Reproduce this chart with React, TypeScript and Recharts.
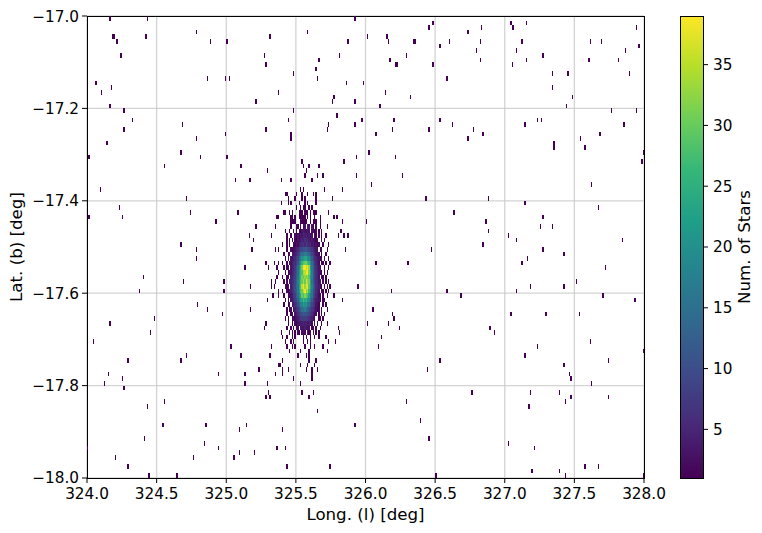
import { ScatterChart, Scatter, XAxis, YAxis, CartesianGrid, ReferenceArea } from 'recharts'

const LON_TICKS = [324, 324.5, 325, 325.5, 326, 326.5, 327, 327.5, 328]
const LAT_TICKS = [-18, -17.8, -17.6, -17.4, -17.2, -17]
const COUNT_TICKS = [5, 10, 15, 20, 25, 30, 35]

const VIRIDIS = [
  '#440154', '#482878', '#3e4989', '#31688e', '#26828e', '#1f9e89',
  '#35b779', '#6ece58', '#b5de2b', '#fde725',
]
const COUNT_MIN = 1
const COUNT_MAX = 39

// lat bins are 0.01 deg: row 0 is -17.00 to -17.01, row 99 is -17.99 to -18.00
// each row lists the left lon edge of bins that hold a single star
const SINGLE_STAR_LONS = [
  [324.16, 324.43, 325.92],
  [326.48, 327.04, 327.15],
  [326.45, 326.83, 327.05, 327.06, 327.94],
  [324.78, 325.58, 326.73],
  [324.18, 324.19, 324.42, 325.31, 326.01, 326.15],
  [324.21, 324.88, 325.0, 325.87, 326.16, 326.34, 326.35, 326.6, 326.82, 327.12, 327.61, 327.69],
  [326.53, 327.96],
  [326.79, 327.08, 327.86],
  [324.24, 325.27, 325.81, 326.29, 327.27],
  [325.66, 326.17, 326.82, 327.15, 327.6, 327.81],
  [325.28, 326.21, 326.22, 326.48, 327.05],
  [325.64],
  [325.48, 327.34, 327.45, 327.89],
  [324.86, 324.99, 325.02, 325.65, 326.58],
  [324.06, 325.86, 325.98],
  [324.17, 327.34],
  [324.1, 325.37, 326.14],
  [325.77, 326.32, 327.48],
  [325.21, 325.76, 325.92],
  [324.16, 326.1, 327.44],
  [324.26, 325.48, 327.76, 327.94],
  [325.79],
  [324.32, 325.44, 325.97, 326.2, 326.53, 327.23, 327.26],
  [324.68, 325.73, 325.92, 326.62, 327.14, 327.85],
  [324.26, 325.28, 325.72, 326.19, 326.45, 326.77],
  [324.99, 325.46, 326.07, 326.84, 327.68],
  [324.78, 325.46, 326.73, 327.54],
  [324.14, 327.35],
  [327.35, 327.57],
  [324.67, 326.02, 327.99],
  [324.01, 324.81, 325.0, 325.93, 326.21],
  [325.54, 325.84, 327.98],
  [324.55, 325.1, 325.55, 325.59, 325.66],
  [325.29, 325.57],
  [325.56, 325.65, 325.69, 325.93, 326.26],
  [325.06, 325.16, 325.17, 325.39, 325.46, 325.61],
  [326.04, 327.62],
  [324.09, 325.53, 325.55, 325.7, 325.83],
  [325.42, 325.43, 325.5, 325.54, 325.58, 325.62, 325.64],
  [324.71, 325.44, 325.49, 325.54, 325.56, 325.64, 325.76, 326.43, 326.88],
  [325.39, 325.44, 325.46, 325.52, 325.56, 325.58, 325.64, 327.14],
  [324.23, 325.5, 325.53, 325.55, 325.56, 325.59, 325.61, 327.67],
  [324.74, 325.08, 325.41, 325.42, 325.45, 325.47, 325.52, 325.53, 325.54, 325.56, 325.57, 325.58, 325.6, 325.62, 325.63, 325.64, 325.73, 326.63],
  [324.01, 324.25, 325.36, 325.37, 325.46, 325.47, 325.49, 325.52, 325.53, 325.54, 325.55, 325.56, 325.58, 325.6, 325.63, 325.67, 325.77, 325.79, 327.27],
  [324.92, 325.46, 325.47, 325.48, 325.49, 325.53, 325.54, 325.55, 325.56, 325.57, 325.6, 325.62, 325.63, 325.64, 325.67, 325.83, 326.0, 326.86],
  [325.21, 325.35, 327.25, 327.34],
  [325.82, 326.88],
  [325.16, 325.32, 325.8, 325.84, 325.87, 327.02],
  [325.19, 327.08, 327.84],
  [324.67, 326.84],
  [324.78, 325.18, 325.35, 325.37, 325.85, 326.47, 327.27],
  [327.42],
  [324.78, 327.16],
  [325.28, 325.34, 325.37, 326.07, 326.3, 327.12],
  [325.13, 325.3, 325.36, 327.72],
  [325.37],
  [324.4, 325.36],
  [324.69, 324.98, 325.32, 325.35, 327.51],
  [325.17, 325.32, 325.34, 325.94, 327.18, 327.42],
  [324.37, 324.98, 325.37, 326.18, 326.58, 327.08],
  [325.33, 325.37, 325.77, 326.68, 327.7],
  [325.29, 325.83, 327.93],
  [324.79],
  [324.86, 325.17, 326.05],
  [324.97, 326.19, 327.04, 327.29, 327.53],
  [324.48, 326.2],
  [324.16, 325.28, 326.01, 326.16],
  [325.27, 325.8, 326.24, 326.89],
  [324.45, 325.39, 325.81, 326.92],
  [325.4, 325.43, 325.47, 325.49, 325.55, 325.57, 325.6, 325.63, 325.66, 325.71, 326.11],
  [324.04, 325.42, 325.46, 325.48, 325.55, 325.58, 325.6, 325.73, 325.78, 327.61],
  [325.03, 325.32, 325.43, 325.47, 325.49, 325.56, 325.6, 325.63, 325.69, 326.09, 327.23],
  [325.45, 325.53, 325.59, 325.72, 327.99],
  [324.71, 325.1, 325.31, 325.51, 325.57, 325.59, 327.14],
  [324.29, 324.67, 325.4, 325.59, 325.64, 326.53, 327.74],
  [325.37, 325.38, 325.53, 325.58, 325.63, 327.42],
  [325.23, 325.4, 325.44, 325.57, 325.61, 325.65, 326.44],
  [324.15, 324.94, 325.13, 325.35, 325.4, 325.61, 327.46],
  [324.25, 325.48, 325.61, 327.47],
  [324.12, 325.13, 325.29, 325.53, 327.62],
  [324.26],
  [325.3, 325.54, 325.62, 326.76, 327.18, 327.39],
  [325.28, 325.31, 325.59, 327.47, 327.74],
  [324.55, 326.29, 327.43],
  [324.43, 327.17],
  [325.65],
  [],
  [326.39],
  [324.54, 324.85, 325.14, 325.92],
  [325.09, 325.4],
  [],
  [324.41, 326.45],
  [324.84, 327.02],
  [324.0, 324.94, 325.36, 325.42, 327.21],
  [325.09, 325.2],
  [324.2, 324.76, 325.05],
  [],
  [324.29, 325.43, 325.74, 327.57, 327.67],
  [327.19, 327.39],
  [324.44, 324.64, 326.5, 327.43, 327.99],
]

// the dense clump: lat rows 45 to 68, lon bins from 325.40 in 0.01 steps
const CLUMP_FIRST_ROW = 45
const CLUMP_FIRST_LON = 325.4
const CLUMP_COUNTS = [
  [0, 0, 0, 0, 0, 0, 1, 0, 0, 0, 1, 1, 0, 2, 0, 2, 3, 0, 4, 3, 0, 3, 1, 0, 2, 0, 0, 1, 0, 0, 0, 0, 1, 0, 0, 0],
  [0, 0, 1, 0, 0, 1, 0, 0, 2, 0, 1, 0, 2, 1, 3, 4, 3, 2, 4, 3, 0, 2, 3, 1, 2, 0, 1, 0, 1, 0, 0, 0, 0, 0, 0, 0],
  [0, 0, 0, 1, 0, 0, 1, 0, 0, 2, 1, 3, 2, 4, 3, 5, 4, 5, 3, 4, 2, 3, 0, 2, 1, 0, 2, 0, 1, 0, 0, 1, 0, 0, 0, 0],
  [0, 0, 0, 1, 0, 1, 0, 2, 0, 2, 1, 3, 2, 4, 5, 4, 6, 5, 6, 4, 3, 4, 2, 3, 1, 2, 0, 0, 2, 0, 1, 0, 0, 0, 0, 0],
  [1, 0, 0, 1, 0, 1, 0, 0, 2, 1, 3, 2, 4, 5, 6, 7, 5, 8, 6, 5, 6, 3, 4, 2, 3, 1, 2, 0, 0, 1, 0, 0, 0, 1, 0, 0],
  [0, 0, 0, 1, 0, 0, 2, 1, 2, 3, 4, 5, 7, 9, 9, 11, 11, 12, 10, 9, 8, 7, 5, 4, 3, 2, 0, 2, 1, 0, 0, 0, 1, 0, 0, 0],
  [0, 1, 0, 0, 1, 2, 0, 3, 3, 4, 5, 7, 10, 13, 15, 15, 17, 17, 15, 14, 11, 9, 7, 5, 3, 3, 2, 0, 1, 0, 0, 1, 0, 0, 0, 0],
  [0, 0, 1, 0, 2, 0, 3, 3, 4, 5, 7, 9, 13, 16, 20, 21, 23, 24, 20, 19, 15, 12, 8, 6, 5, 3, 3, 1, 2, 0, 1, 0, 0, 1, 0, 0],
  [1, 0, 0, 1, 0, 2, 3, 4, 5, 6, 8, 11, 16, 20, 26, 29, 30, 31, 27, 26, 19, 15, 10, 8, 5, 4, 2, 0, 1, 1, 0, 1, 0, 0, 1, 0],
  [0, 1, 0, 1, 2, 0, 3, 4, 5, 7, 10, 14, 19, 25, 31, 38, 39, 35, 38, 33, 22, 16, 12, 8, 6, 4, 3, 2, 0, 0, 1, 0, 0, 1, 0, 0],
  [0, 0, 1, 0, 1, 3, 3, 5, 5, 8, 11, 15, 20, 27, 28, 34, 35, 38, 39, 31, 24, 17, 11, 9, 6, 5, 3, 2, 1, 0, 1, 0, 1, 0, 0, 0],
  [1, 0, 0, 1, 2, 0, 4, 4, 7, 8, 12, 16, 22, 26, 31, 30, 33, 31, 33, 29, 21, 17, 11, 9, 6, 4, 3, 0, 2, 1, 0, 1, 0, 0, 0, 0],
  [0, 1, 0, 2, 0, 3, 4, 6, 6, 9, 12, 18, 21, 28, 30, 34, 30, 37, 33, 31, 23, 15, 13, 8, 6, 5, 3, 3, 0, 2, 0, 1, 0, 1, 0, 0],
  [0, 0, 2, 1, 3, 0, 4, 5, 8, 9, 14, 16, 23, 28, 35, 38, 33, 37, 38, 29, 24, 18, 12, 10, 6, 5, 4, 2, 1, 0, 1, 0, 1, 0, 1, 0],
  [1, 0, 0, 2, 1, 3, 4, 6, 7, 10, 12, 17, 20, 29, 30, 35, 38, 32, 34, 27, 21, 16, 11, 9, 6, 4, 3, 0, 2, 1, 0, 1, 0, 1, 0, 0],
  [0, 1, 0, 0, 2, 2, 3, 4, 7, 8, 12, 15, 20, 23, 30, 28, 32, 29, 28, 23, 18, 15, 10, 8, 5, 4, 2, 2, 0, 1, 0, 0, 1, 0, 0, 0],
  [0, 0, 1, 0, 1, 0, 3, 4, 5, 8, 9, 13, 17, 22, 23, 27, 24, 26, 21, 20, 14, 12, 8, 6, 4, 3, 3, 1, 0, 1, 1, 0, 0, 0, 0, 0],
  [0, 1, 0, 0, 1, 2, 0, 3, 4, 6, 7, 10, 13, 18, 18, 22, 20, 21, 16, 16, 11, 9, 7, 6, 3, 3, 1, 0, 0, 1, 0, 1, 0, 0, 0, 0],
  [0, 0, 0, 1, 0, 1, 2, 0, 3, 4, 6, 7, 10, 12, 15, 15, 17, 14, 14, 11, 9, 7, 6, 4, 3, 1, 2, 0, 1, 0, 0, 0, 1, 0, 0, 0],
  [0, 0, 0, 1, 0, 0, 1, 2, 0, 3, 4, 6, 7, 10, 10, 12, 11, 11, 10, 9, 7, 6, 4, 3, 2, 0, 1, 0, 1, 0, 1, 0, 0, 0, 0, 0],
  [0, 0, 1, 0, 1, 0, 0, 1, 2, 2, 3, 4, 6, 7, 8, 8, 8, 7, 8, 6, 5, 4, 3, 2, 0, 0, 1, 1, 0, 1, 0, 0, 0, 0, 0, 0],
  [0, 0, 0, 0, 1, 0, 0, 1, 0, 2, 1, 3, 3, 4, 4, 5, 4, 5, 3, 4, 3, 2, 0, 2, 0, 1, 0, 0, 1, 0, 0, 0, 1, 0, 0, 0],
  [0, 0, 0, 1, 0, 0, 1, 0, 1, 0, 2, 2, 0, 3, 3, 3, 4, 3, 3, 3, 0, 1, 2, 0, 1, 0, 0, 1, 0, 0, 0, 0, 0, 0, 0, 0],
  [0, 0, 0, 0, 0, 1, 0, 1, 0, 1, 0, 2, 1, 0, 2, 3, 2, 0, 3, 1, 2, 0, 1, 0, 1, 0, 1, 0, 0, 0, 0, 0, 0, 0, 0, 0],
]

const BIN_DEG = 0.01
const PLOT_W = 557
const PLOT_H = 462
const BIN_W = PLOT_W / 400
const BIN_H = PLOT_H / 100

const TICK_FONT = { fill: '#000', fontSize: 15.28 }
const LABEL_FONT = { fill: '#000', fontSize: 16.67 }

interface Cell {
  lon: number
  lat: number
  count: number
}

function buildCells() {
  const cells: Cell[] = []
  SINGLE_STAR_LONS.forEach((lons, row) => {
    lons.forEach((lon) => {
      cells.push({ lon: lon + BIN_DEG / 2, lat: -17 - BIN_DEG * (row + 0.5), count: 1 })
    })
  })
  CLUMP_COUNTS.forEach((counts, i) => {
    counts.forEach((count, j) => {
      if (count > 0) {
        cells.push({
          lon: CLUMP_FIRST_LON + BIN_DEG * (j + 0.5),
          lat: -17 - BIN_DEG * (CLUMP_FIRST_ROW + i + 0.5),
          count,
        })
      }
    })
  })
  return cells
}

function hexToRgb(hex: string) {
  return [1, 3, 5].map((i) => parseInt(hex.slice(i, i + 2), 16))
}

function viridis(count: number) {
  const t = ((count - COUNT_MIN) / (COUNT_MAX - COUNT_MIN)) * (VIRIDIS.length - 1)
  const low = Math.min(Math.floor(t), VIRIDIS.length - 2)
  const a = hexToRgb(VIRIDIS[low])
  const b = hexToRgb(VIRIDIS[low + 1])
  const mix = a.map((v, i) => Math.round(v + (b[i] - v) * (t - low)))
  return `rgb(${mix.join(',')})`
}

function BinShape(props: any) {
  const { cx, cy, payload } = props
  return (
    <rect
      x={cx - BIN_W / 2}
      y={cy - BIN_H / 2}
      width={BIN_W}
      height={BIN_H}
      fill={viridis(payload.count)}
      shapeRendering="crispEdges"
    />
  )
}

const formatLat = (v: number) => v.toFixed(1).replace('-', '\u2212')

const colorbarExtent = [
  { x: 0, y: COUNT_MIN },
  { x: 1, y: COUNT_MAX },
]

function Colorbar() {
  return (
    <ScatterChart
      width={94}
      height={517}
      margin={{ top: 8, right: 0, bottom: 47, left: 12 }}
      style={{ position: 'absolute', left: 660, top: 0 }}
    >
      <defs>
        <linearGradient id="viridisRamp" x1="0" y1="1" x2="0" y2="0">
          {VIRIDIS.map((color, i) => (
            <stop key={color} offset={`${(i / (VIRIDIS.length - 1)) * 100}%`} stopColor={color} />
          ))}
        </linearGradient>
      </defs>
      <XAxis type="number" dataKey="x" domain={[0, 1]} hide />
      <YAxis
        type="number"
        dataKey="y"
        orientation="right"
        width={59}
        domain={[COUNT_MIN, COUNT_MAX]}
        ticks={COUNT_TICKS}
        tick={TICK_FONT}
        tickSize={5}
        tickMargin={5}
        axisLine={false}
        tickLine={{ stroke: '#000' }}
        label={{ value: 'Num. of Stars', angle: -90, position: 'insideRight', offset: 18, style: { ...LABEL_FONT, textAnchor: 'middle' } }}
      />
      <Scatter data={colorbarExtent} shape={() => <g />} isAnimationActive={false} />
      <ReferenceArea
        x1={0}
        x2={1}
        y1={COUNT_MIN}
        y2={COUNT_MAX}
        fill="url(#viridisRamp)"
        fillOpacity={1}
        stroke="#000"
        strokeWidth={1}
        shapeRendering="crispEdges"
      />
    </ScatterChart>
  )
}

export default function App() {
  const cells = buildCells()
  return (
    <div style={{ position: 'relative', width: 754, height: 517, fontFamily: '"DejaVu Sans", sans-serif' }}>
      <ScatterChart width={660} height={517} margin={{ top: 8, right: 24, bottom: 0, left: 0 }}>
        <XAxis
          type="number"
          dataKey="lon"
          domain={[324, 328]}
          ticks={LON_TICKS}
          tickFormatter={(v: number) => v.toFixed(1)}
          height={47}
          tick={TICK_FONT}
          tickSize={5}
          tickMargin={5}
          axisLine={false}
          tickLine={{ stroke: '#000' }}
          label={{ value: 'Long. (l) [deg]', position: 'insideBottom', offset: 5, style: LABEL_FONT }}
        />
        <YAxis
          type="number"
          dataKey="lat"
          domain={[-18, -17]}
          ticks={LAT_TICKS}
          tickFormatter={formatLat}
          width={79}
          tick={TICK_FONT}
          tickSize={5}
          tickMargin={3}
          axisLine={false}
          tickLine={{ stroke: '#000' }}
          label={{ value: 'Lat. (b) [deg]', angle: -90, position: 'insideLeft', offset: 8, style: { ...LABEL_FONT, textAnchor: 'middle' } }}
        />
        <Scatter data={cells} shape={BinShape} isAnimationActive={false} />
        <CartesianGrid stroke="#c8c8c8" strokeOpacity={0.8} strokeWidth={1.3} />
        <ReferenceArea x1={324} x2={328} y1={-18} y2={-17} fill="none" stroke="#000" strokeWidth={1} shapeRendering="crispEdges" />
      </ScatterChart>
      <Colorbar />
    </div>
  )
}
